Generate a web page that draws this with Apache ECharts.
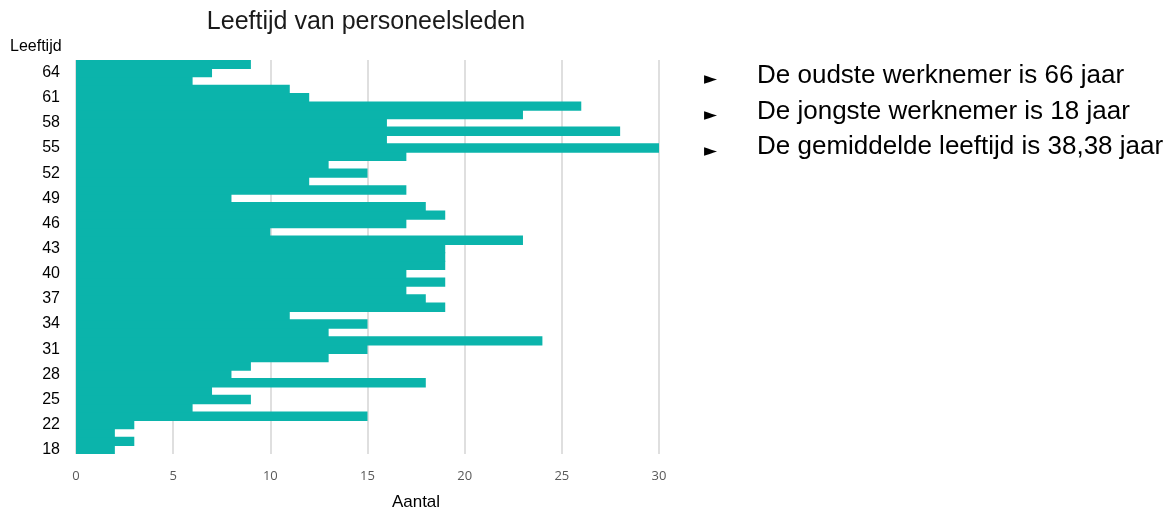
<!DOCTYPE html>
<html>
<head>
<meta charset="utf-8">
<script src="https://cdn.jsdelivr.net/npm/echarts@6/dist/echarts.min.js"></script>
<style>
html,body{margin:0;padding:0;background:#fff;}
#chart{width:1175px;height:512px;}
</style>
</head>
<body>
<div id="chart"></div>
<script>
const ages = ['18','20','21','22','23','24','25','26','27','28','29','30','31','32','33','34','35','36','37','38','39','40','41','42','43','44','45','46','47','48','49','50','51','52','53','54','55','56','57','58','59','60','61','62','63','64','66'];
const counts = [2,3,2,3,15,6,9,7,18,8,9,13,15,24,13,15,11,19,18,17,19,17,19,19,19,23,10,17,19,18,8,17,12,15,13,17,30,16,28,16,23,26,12,11,6,7,9];
const xTicks = [0,5,10,15,20,25,30];
const titleText = 'Leeftijd van personeelsleden';
const yName = 'Leeftijd';
const xName = 'Aantal';
const bullets = ['De oudste werknemer is 66 jaar','De jongste werknemer is 18 jaar','De gemiddelde leeftijd is 38,38 jaar'];

const chart = echarts.init(document.getElementById('chart'), null, {renderer:'canvas'});
const graphics = [
  {type:'text', x:10, y:47, style:{text:yName, font:'16px "Liberation Sans", Arial', fill:'#000', textVerticalAlign:'middle'}},
  {type:'text', x:416, y:502, style:{text:xName, font:'17px "Liberation Sans", Arial', fill:'#000', textAlign:'center', textVerticalAlign:'middle'}},
  {type:'text', x:366, y:22, style:{text:titleText, font:'25px "Liberation Sans", Arial', fill:'#1a1a1a', textAlign:'center', textVerticalAlign:'middle'}}
];
const lineY = [76, 111.7, 147.3];
bullets.forEach((b,i)=>{
  graphics.push({type:'text', x:704, y:lineY[i]+4, style:{text:'\u25BA', font:'17px "DejaVu Sans"', fill:'#000', textVerticalAlign:'middle'}});
  graphics.push({type:'text', x:757, y:lineY[i], style:{text:b, font:'26px "Liberation Sans", Arial', fill:'#000', textVerticalAlign:'middle'}});
});
chart.setOption({
  animation:false,
  grid:{left:76, right:516, top:60, bottom:58, containLabel:false},
  xAxis:{type:'value', min:xTicks[0], max:xTicks[xTicks.length-1], interval:5,
    axisLine:{show:false}, axisTick:{show:false},
    splitLine:{show:true, lineStyle:{color:'#d4d4d4', width:1.5}},
    axisLabel:{color:'#595959', fontFamily:'"Open Sans", sans-serif', fontSize:13, margin:16}},
  yAxis:{type:'category', data:ages,
    axisLine:{show:false}, axisTick:{show:false},
    axisLabel:{interval:2, color:'#000', fontFamily:'"Liberation Sans", Arial', fontSize:16, margin:16}},
  series:[{type:'bar', data:counts, barWidth:'112%',
    itemStyle:{color:'#0BB4AB'}}],
  graphic:graphics
});
</script>
</body>
</html>
